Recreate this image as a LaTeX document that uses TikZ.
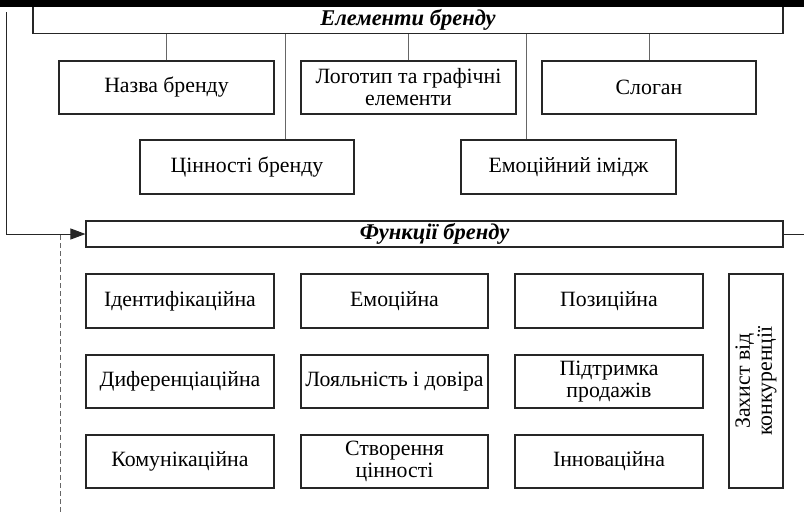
\documentclass[tikz,border=0pt]{standalone}
\usepackage{fontspec}
\setmainfont{Liberation Serif}
\usetikzlibrary{arrows.meta}
\tikzset{
  box/.style={draw=black!85, line width=1.1pt, fill=white, align=center, inner sep=1pt, font=\fontsize{21.8}{22}\selectfont},
  title/.style={draw=black!85, line width=1.1pt, fill=white, inner sep=0pt, font=\fontsize{22.5}{22}\selectfont\bfseries\itshape},
  conn/.style={draw=black!60, line width=1pt},
  feed/.style={draw=black!85, line width=1pt},
  dashline/.style={draw=black!60, line width=0.9pt, dash pattern=on 5pt off 3pt}
}
\begin{document}
\begin{tikzpicture}[x=1pt,y=-1pt]
\useasboundingbox (0,0) rectangle (804,512);
% title boxes
\node[title, minimum width=750pt, minimum height=28pt] (elem) at (408,19.5) {Елементи бренду};
\fill[black] (0,0) rectangle (804,7);
\node[title, minimum width=697pt, minimum height=26pt] (func) at (434.5,234) {Функції бренду};
% elements
\node[box, minimum width=215pt, minimum height=53pt] (name) at (166.5,87.5) {Назва бренду};
\node[box, minimum width=215pt, minimum height=53pt] (logo) at (408.5,87.5) {Логотип та графічні\\елементи};
\node[box, minimum width=214pt, minimum height=53pt] (slogan) at (649,87.5) {Слоган};
\node[box, minimum width=214pt, minimum height=54pt] (values) at (247,167) {Цінності бренду};
\node[box, minimum width=215pt, minimum height=54pt] (emo) at (568.5,167) {Емоційний імідж};
% connectors from elements title
\draw[conn] (name.north) -- (name.north |- elem.south);
\draw[conn] (logo.north) -- (logo.north |- elem.south);
\draw[conn] (slogan.north) -- (slogan.north |- elem.south);
\draw[conn] (285,0 |- values.north) -- (285,0 |- elem.south);
\draw[conn] (526,0 |- emo.north) -- (526,0 |- elem.south);
% feedback line from left to functions
\coordinate (ltop) at (6,12);
\draw[feed, -{Triangle[length=15pt,width=11pt]}] (ltop) -- (ltop |- func.west) -- (func.west);
\coordinate (rend) at (804,234);
\draw[feed] (func.east) -- (rend);
% dashed line
\coordinate (dtop) at (60,235);
\coordinate (dbot) at (60,512);
\draw[dashline] (dtop) -- (dbot);
% functions grid
\node[box, minimum width=188pt, minimum height=54pt] (f11) at (180,301) {Ідентифікаційна};
\node[box, minimum width=187pt, minimum height=54pt] (f12) at (394.5,301) {Емоційна};
\node[box, minimum width=188pt, minimum height=54pt] (f13) at (609,301) {Позиційна};
\node[box, minimum width=188pt, minimum height=53pt] (f21) at (180,381.5) {Диференціаційна};
\node[box, minimum width=187pt, minimum height=53pt, inner sep=0pt] (f22) at (394.5,381.5) {Лояльність і довіра};
\node[box, minimum width=188pt, minimum height=53pt] (f23) at (609,381.5) {Підтримка\\продажів};
\node[box, minimum width=188pt, minimum height=53pt] (f31) at (180,461.5) {Комунікаційна};
\node[box, minimum width=187pt, minimum height=53pt] (f32) at (394.5,461.5) {Створення\\цінності};
\node[box, minimum width=188pt, minimum height=53pt] (f33) at (609,461.5) {Інноваційна};
\node[box, minimum width=214pt, minimum height=54pt, rotate=90] (f4) at (756,381) {Захист від\\конкуренції};
\end{tikzpicture}
\end{document}
